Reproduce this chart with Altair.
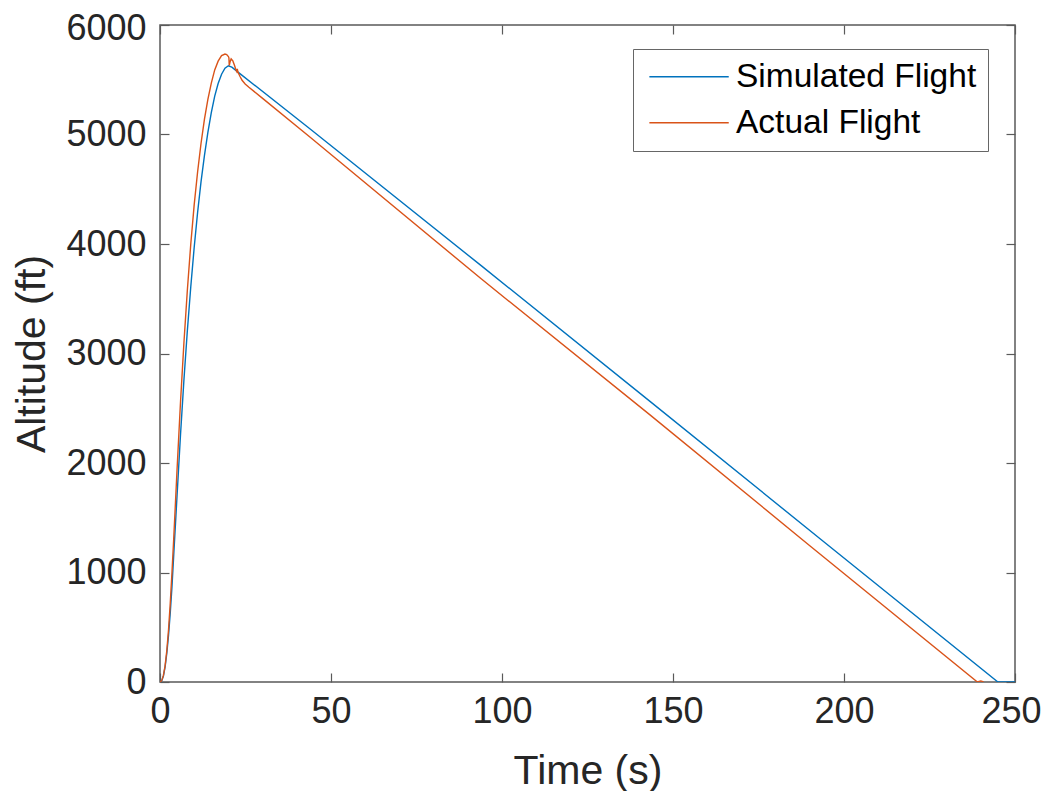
import altair as alt
import pandas as pd

# ---- data ----
sim_t = [0, 0.5, 1, 1.5, 2, 2.5, 3, 3.5, 4, 5, 6, 7, 8, 9, 10, 11, 12, 13, 14, 15, 16, 17, 18, 19, 20,
         21, 22, 23, 44, 94, 143, 193, 245, 250]
sim_alt = [0, 10, 55, 140, 265, 430, 630, 870, 1150, 1710, 2260, 2760, 3210, 3610, 3970, 4290, 4570, 4810,
           5020, 5200, 5350, 5465, 5550, 5605, 5628, 5615, 5590, 5565, 5048, 3800, 2570, 1308, 0, 0]

act_t = [0, 0.5, 1, 1.5, 2, 2.5, 3, 3.5, 4, 5, 6, 7, 8, 9, 10, 11, 12, 13, 14, 15, 16, 17, 18, 19,
         19.5, 20.0, 20.15, 20.25, 20.5, 20.8, 21.3, 21.8, 22.2, 22.45, 22.6, 22.8, 23.4, 24.0, 24.9, 26,
         30, 44, 94, 143, 190, 239, 240, 240.8]
act_alt = [0, 12, 60, 150, 290, 480, 720, 1000, 1300, 1950, 2560, 3100, 3580, 4000, 4360, 4660, 4920, 5140,
           5320, 5470, 5590, 5670, 5720, 5735,
           5730, 5712, 5700, 5630, 5665, 5690, 5672, 5630, 5590, 5575, 5600, 5568, 5530, 5495, 5462, 5432,
           5330, 4972, 3680, 2446, 1245, 0, 10, 0]

series_names = ["Simulated Flight", "Actual Flight"]
series_colors = ["#0072BD", "#D95319"]
x_ticks = [0, 50, 100, 150, 200, 250]
y_ticks = [0, 1000, 2000, 3000, 4000, 5000, 6000]

df = pd.concat([
    pd.DataFrame({"t": sim_t, "alt": sim_alt, "series": series_names[0], "ord": range(len(sim_t))}),
    pd.DataFrame({"t": act_t, "alt": act_alt, "series": series_names[1], "ord": range(len(act_t))}),
], ignore_index=True)

W, H = 855, 657
AX = "#5a5a5a"
TXT = "#262626"
FONT = "Liberation Sans"

xs = alt.Scale(domain=[0, 250], nice=False, zero=False)
ys = alt.Scale(domain=[0, 6000], nice=False, zero=False)
cs = alt.Scale(domain=series_names, range=series_colors)

base = alt.Chart(df)

lines = base.mark_line(strokeWidth=1.4, clip=True).encode(
    x=alt.X("t:Q", scale=xs, axis=alt.Axis(
        title="Time (s)", values=x_ticks, ticks=False, domain=False, grid=False,
        labelFontSize=36, labelFont=FONT, labelColor=TXT, labelPadding=12, labelFlush=False,
        labelOffset=alt.condition("datum.value == 250", alt.value(-4), alt.value(0)),
        titleFontSize=41, titleFont=FONT, titleColor=TXT, titleFontWeight="normal", titlePadding=22,
        format="d")),
    y=alt.Y("alt:Q", scale=ys, axis=alt.Axis(
        title="Altitude (ft)", values=y_ticks, ticks=False, domain=False, grid=False,
        labelFontSize=36, labelFont=FONT, labelColor=TXT, labelPadding=14, labelFlush=False,
        labelOffset=alt.condition("datum.value == 6000", alt.value(3), alt.value(0)),
        titleFontSize=41, titleFont=FONT, titleColor=TXT, titleFontWeight="normal", titlePadding=12,
        format="d")),
    color=alt.Color("series:N", scale=cs, legend=alt.Legend(
        title=None, orient="none", legendX=473, legendY=24,
        symbolType="M-3,0H3", symbolSize=700, symbolStrokeWidth=1.4,
        labelFontSize=33.5, labelFont=FONT, labelColor="black", labelLimit=500,
        labelOffset=30.2, symbolOffset=28.3, padding=11, rowPadding=11,
        strokeColor="#666666", fillColor="white")),
    order="ord:Q",
)

tick_common = dict(labels=False, domain=False, grid=False, ticks=True, tickSize=9,
                   tickColor=AX, tickWidth=1.2, title=None)

# inward ticks at bottom / left edges
ticks_a = base.mark_line(opacity=0).encode(
    x=alt.X("t:Q", scale=xs, axis=alt.Axis(orient="top", offset=-H, values=x_ticks, **tick_common)),
    y=alt.Y("alt:Q", scale=ys, axis=alt.Axis(orient="right", offset=-W, values=y_ticks, **tick_common)),
    detail="series:N",
)
# inward ticks at top / right edges
ticks_b = base.mark_line(opacity=0).encode(
    x=alt.X("t:Q", scale=xs, axis=alt.Axis(orient="bottom", offset=-H, values=x_ticks, **tick_common)),
    y=alt.Y("alt:Q", scale=ys, axis=alt.Axis(orient="left", offset=-W, values=y_ticks, **tick_common)),
    detail="series:N",
)

chart = alt.layer(lines, ticks_a, ticks_b).resolve_axis(
    x="independent", y="independent"
).properties(
    width=W, height=H,
    autosize=alt.AutoSizeParams(type="none"),
    padding={"left": 152, "top": 17, "right": 26, "bottom": 109},
    background="white",
).configure_view(
    stroke=AX, strokeWidth=1.5
)

chart.save("out.html", embed_options={"renderer": "svg", "actions": False})
